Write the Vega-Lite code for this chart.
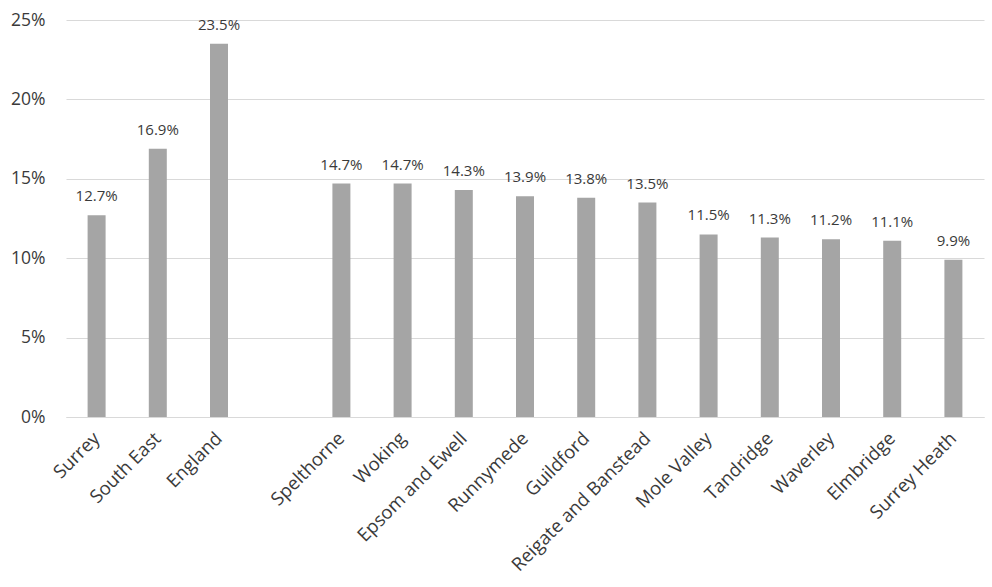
{
  "$schema": "https://vega.github.io/schema/vega-lite/v6.json",
  "width": 918,
  "height": 397,
  "autosize": "none",
  "padding": {"left": 66, "top": 20, "right": 8, "bottom": 170},
  "background": "white",
  "config": {"view": {"stroke": null}, "font": "Open Sans"},
  "data": {
    "values": [
      {"area": "Surrey", "rate": 0.127},
      {"area": "South East", "rate": 0.169},
      {"area": "England", "rate": 0.235},
      {"area": "Spelthorne", "rate": 0.147},
      {"area": "Woking", "rate": 0.147},
      {"area": "Epsom and Ewell", "rate": 0.143},
      {"area": "Runnymede", "rate": 0.139},
      {"area": "Guildford", "rate": 0.138},
      {"area": "Reigate and Banstead", "rate": 0.135},
      {"area": "Mole Valley", "rate": 0.115},
      {"area": "Tandridge", "rate": 0.113},
      {"area": "Waverley", "rate": 0.112},
      {"area": "Elmbridge", "rate": 0.111},
      {"area": "Surrey Heath", "rate": 0.099}
    ]
  },
  "encoding": {
    "x": {
      "field": "area",
      "type": "nominal",
      "title": null,
      "scale": {
        "domain": ["Surrey", "South East", "England", " ", "Spelthorne", "Woking", "Epsom and Ewell", "Runnymede", "Guildford", "Reigate and Banstead", "Mole Valley", "Tandridge", "Waverley", "Elmbridge", "Surrey Heath"],
        "paddingInner": 0.706,
        "paddingOuter": 0.353
      },
      "axis": {
        "labelAngle": -45,
        "labelAlign": "right",
        "labelBaseline": "middle",
        "labelPadding": 18,
        "labelFontSize": 18.5,
        "labelLimit": 400,
        "labelColor": "#3a3a3a",
        "ticks": false,
        "domainColor": "#d9d9d9",
        "domainWidth": 1,
        "grid": false
      }
    },
    "y": {
      "field": "rate",
      "type": "quantitative",
      "title": null,
      "scale": {"domain": [0, 0.25]},
      "axis": {
        "values": [0, 0.05, 0.1, 0.15, 0.2, 0.25],
        "format": ".0%",
        "domain": false,
        "ticks": false,
        "labelPadding": 21,
        "labelFontSize": 17.5,
        "labelColor": "#3a3a3a",
        "gridColor": "#d9d9d9",
        "gridWidth": 1
      }
    }
  },
  "layer": [
    {"mark": {"type": "bar", "color": "#a5a5a5"}},
    {
      "mark": {"type": "text", "baseline": "alphabetic", "dy": -14, "fontSize": 15, "color": "#3a3a3a"},
      "encoding": {"text": {"field": "rate", "type": "quantitative", "format": ".1%"}}
    }
  ]
}
